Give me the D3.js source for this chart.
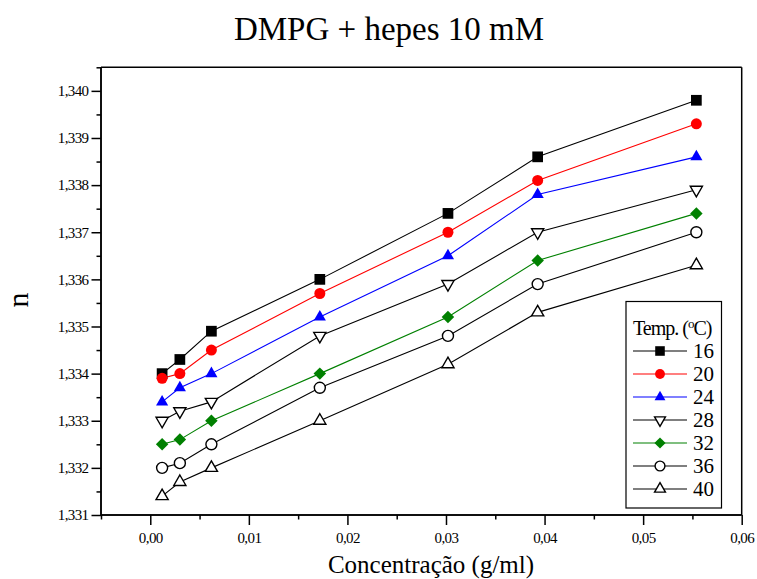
<!DOCTYPE html>
<html><head><meta charset="utf-8">
<script src="https://cdn.jsdelivr.net/npm/d3@7"></script>
<style>body{margin:0;background:#fff}svg{display:block}text{font-family:"Liberation Serif","Times New Roman",serif;fill:#000}</style>
</head><body><svg id="c" width="757" height="579"></svg>
<script>
const concentrations = [0.0012, 0.003, 0.0062, 0.0172, 0.0302, 0.0393, 0.0554];
const temps = ["16", "20", "24", "28", "32", "36", "40"];
const n16 = [1.3340, 1.3343, 1.3349, 1.3360, 1.3374, 1.3386, 1.3398];
const n20 = [1.3339, 1.3340, 1.3345, 1.3357, 1.3370, 1.3381, 1.3393];
const n24 = [1.3334, 1.3337, 1.3340, 1.3352, 1.3365, 1.3378, 1.3386];
const n28 = [1.3330, 1.3332, 1.3334, 1.3348, 1.3359, 1.3370, 1.3379];
const n32 = [1.3325, 1.3326, 1.3330, 1.3340, 1.3352, 1.3364, 1.3374];
const n36 = [1.3320, 1.3321, 1.3325, 1.3337, 1.3348, 1.3359, 1.3370];
const n40 = [1.3314, 1.3317, 1.3320, 1.3330, 1.3342, 1.3353, 1.3363];
const yTicks = [1.331, 1.332, 1.333, 1.334, 1.335, 1.336, 1.337, 1.338, 1.339, 1.340];
const xTicks = [0, 0.01, 0.02, 0.03, 0.04, 0.05, 0.06];
const title = "DMPG + hepes 10 mM";
const xLabel = "Concentração (g/ml)";
const yLabel = "n";

const seriesValues = [n16, n20, n24, n28, n32, n36, n40];
const styles = [
  {color:"#000000", type:d3.symbolSquare, size:115, fill:"#000000", rot:0},
  {color:"#ff0000", type:d3.symbolCircle, size:95, fill:"#ff0000", rot:0},
  {color:"#0000ff", type:d3.symbolTriangle, size:64, fill:"#0000ff", rot:0},
  {color:"#000000", type:d3.symbolTriangle, size:64, fill:"#ffffff", rot:180},
  {color:"#008000", type:d3.symbolSquare, size:78, fill:"#008000", rot:45},
  {color:"#000000", type:d3.symbolCircle, size:95, fill:"#ffffff", rot:0},
  {color:"#000000", type:d3.symbolTriangle, size:64, fill:"#ffffff", rot:0}
];

const svg = d3.select("#c");
const L = 101, R = 741.7, T = 67.3, B = 515;
const x = d3.scaleLinear().domain([-0.005, 0.06]).range([L, R]);
const y = d3.scaleLinear().domain([1.331, 1.3405]).range([B, T]);
const fmt = v => d3.format(".3f")(v).replace(".", ",");
const fmtX = v => d3.format(".2f")(v).replace(".", ",");
const SERIF = "Liberation Serif";

// title
svg.append("text").attr("x", 389).attr("y", 40).attr("text-anchor", "middle")
  .style("font-size", "33px").text(title);

// frame top/right
svg.append("line").attr("x1", L).attr("x2", R).attr("y1", T).attr("y2", T).attr("stroke", "#000").attr("stroke-width", 1.5);
svg.append("line").attr("x1", R).attr("x2", R).attr("y1", T).attr("y2", B).attr("stroke", "#000").attr("stroke-width", 1.5);

// y axis
const yMinor = d3.range(1.3315, 1.3406, 0.001);
const ya = svg.append("g").attr("transform", `translate(${L},0)`);
ya.call(d3.axisLeft(y).tickValues(yMinor).tickSize(4.5).tickFormat(""));
const ya2 = svg.append("g").attr("transform", `translate(${L},0)`);
ya2.call(d3.axisLeft(y).tickValues(yTicks).tickSize(9.5).tickPadding(3).tickFormat(fmt));
[ya, ya2].forEach(g => { g.attr("font-family", SERIF); g.select(".domain").attr("stroke-width", 1.5).attr("d", `M0,${B}V${T}`); g.selectAll(".tick line").attr("stroke-width", 1.5); });
ya2.selectAll("text").attr("font-family", SERIF).style("font-size", "15px").style("letter-spacing", "-0.6px");

// x axis
const xMinor = d3.range(-0.005, 0.0601, 0.01);
const xa = svg.append("g").attr("transform", `translate(0,${B})`);
xa.call(d3.axisBottom(x).tickValues(xMinor).tickSize(4.5).tickFormat(""));
const xa2 = svg.append("g").attr("transform", `translate(0,${B})`);
xa2.call(d3.axisBottom(x).tickValues(xTicks).tickSize(10).tickPadding(7).tickFormat(fmtX));
[xa, xa2].forEach(g => { g.attr("font-family", SERIF); g.select(".domain").attr("stroke-width", 1.5).attr("d", `M${L},0H${R}`); g.selectAll(".tick line").attr("stroke-width", 1.5); });
xa2.selectAll("text").attr("font-family", SERIF).style("font-size", "15px").style("letter-spacing", "-0.6px");

// axis labels
svg.append("text").attr("x", 431).attr("y", 573).attr("text-anchor", "middle")
  .style("font-size", "25px").text(xLabel);
svg.append("text").attr("transform", "translate(28,300) rotate(-90)").attr("text-anchor", "middle")
  .style("font-size", "30px").text(yLabel);

// series
const line = d3.line().x((d, i) => x(concentrations[i])).y(d => y(d));
seriesValues.forEach((vals, s) => {
  const st = styles[s];
  svg.append("path").datum(vals).attr("d", line).attr("fill", "none")
    .attr("stroke", st.color).attr("stroke-width", 1.1);
});
seriesValues.forEach((vals, s) => {
  const st = styles[s];
  svg.append("g").selectAll("path").data(vals).join("path")
    .attr("transform", (d, i) => `translate(${x(concentrations[i])},${y(d)}) rotate(${st.rot})`)
    .attr("d", d3.symbol().type(st.type).size(st.size))
    .attr("fill", st.fill).attr("stroke", st.fill === "#ffffff" ? "#000" : "none").attr("stroke-width", 1.4);
});

// legend
const lg = svg.append("g");
lg.append("rect").attr("x", 626).attr("y", 301.5).attr("width", 95.5).attr("height", 206.5)
  .attr("fill", "#fff").attr("stroke", "#000").attr("stroke-width", 1.2);
const lt = lg.append("text").attr("x", 633).attr("y", 335).style("font-size", "20px").style("letter-spacing", "-1px");
lt.append("tspan").text("Temp. (");
lt.append("tspan").attr("dy", -7).style("font-size", "13px").text("o");
lt.append("tspan").attr("dy", 7).text("C)");
temps.forEach((t, s) => {
  const st = styles[s];
  const cy = 351 + s * 23;
  lg.append("line").attr("x1", 633).attr("x2", 687).attr("y1", cy).attr("y2", cy)
    .attr("stroke", st.color).attr("stroke-width", 1.1);
  lg.append("path").attr("transform", `translate(660,${cy}) rotate(${st.rot})`)
    .attr("d", d3.symbol().type(st.type).size(st.size * 0.8))
    .attr("fill", st.fill).attr("stroke", st.fill === "#ffffff" ? "#000" : "none").attr("stroke-width", 1.4);
  lg.append("text").attr("x", 693).attr("y", cy + 7).style("font-size", "21px").text(t);
});
</script></body></html>
